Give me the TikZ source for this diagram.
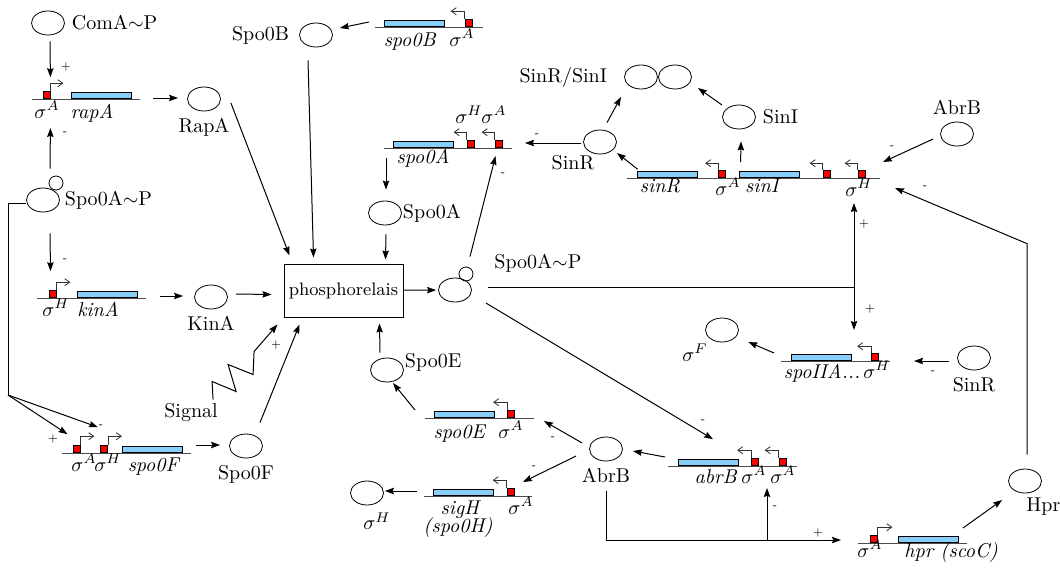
\documentclass[tikz,border=0pt]{standalone}
\usetikzlibrary{shapes.geometric,arrows.meta,positioning}
\definecolor{cdsblue}{RGB}{135,206,250}

\begin{document}
\begin{tikzpicture}[x=0.5pt, y=-0.5pt,
    prot/.style={ellipse, draw, minimum width=16.5pt, minimum height=12pt, inner sep=0pt},
    phos/.style={circle, draw, minimum size=7pt, inner sep=0pt},
    cds/.style={rectangle, draw, fill=cdsblue, minimum width=30pt, minimum height=3pt, inner sep=0pt, anchor=south},
    prom/.style={rectangle, draw, fill=red, minimum size=3.5pt, inner sep=0pt, anchor=south},
    dna/.style={draw=black!70, line width=0.5pt},
    tss/.style={draw=black!80, line width=0.4pt, -{Straight Barb[length=2.5pt,width=3.5pt]}},
    act/.style={line width=0.5pt, -{Stealth[length=4.5pt,width=3.2pt,inset=0.6pt]}},
    link/.style={line width=0.5pt},
    sgn/.style={font=\tiny, inner sep=0pt},
    glab/.style={anchor=base, inner sep=0pt}]

    \useasboundingbox (0,0) rectangle (1060,568);

    % Proteins
    \node[prot, label={right:ComA$\sim$P}] (comap) at (48,23) {};
    \node[prot, label=below:RapA] (rapa) at (204,99) {};
    \node[prot, label={[label distance=-1pt]right:Spo0A$\sim$P}] (spoapl) at (43,200) {};
    \node[phos] (spoapl-p) at (56,183) {};
    \node[prot, label={[label distance=1.5pt]left:Spo0B}] (spob) at (316,35) {};
    \node[prot, label=below:KinA] (kina) at (211,297) {};
    \node[prot, label=below:Spo0F] (spof) at (246,446) {};
    \node[prot, label={[label distance=-3pt]right:Spo0A}] (spoa) at (385,213) {};
    \node[prot] (spoapm) at (455,290) {};
    \node[phos] (spoapm-p) at (466,274) {};
    \node[anchor=base west, inner sep=0pt] (spoapm-t) at (494,268) {Spo0A$\sim$P};
    \node[prot, label={[label distance=-3pt, yshift=4pt]right:Spo0E}] (spoe) at (387,370) {};
    \node[prot, label=below:AbrB] (abrbl) at (606,449) {};
    \node[prot, label={[xshift=5pt]below:$\sigma^H$}] (sigh) at (367,493) {};
    \node[prot] (sinru) at (600,142) {};
    \node[glab] (sinru-t) at (573,169) {SinR};
    \node[prot, label={[label distance=5pt]left:SinR/SinI}] (sinri1) at (641,77) {};
    \node[prot] (sinri2) at (675,77) {};
    \node[prot, label=right:SinI] (sini) at (739,117) {};
    \node[prot, label=above:AbrB] (abrbu) at (957,134) {};
    \node[prot, label={[label distance=-2pt]below left:$\sigma^F$}] (sigf) at (722,330) {};
    \node[prot, label=below:SinR] (sinrl) at (974,358) {};
    \node[prot] (hpr) at (1025,481) {};
    \node[anchor=base west, inner sep=0pt] (hpr-t) at (1026,511) {Hpr};

    \node[draw, line width=0.5pt, minimum width=59.5pt, minimum height=26.5pt, inner xsep=2pt,
        font=\fontsize{9}{11}\selectfont] (relais) at (343.5,290.5) {phosphorelais};
    \node[glab] (signal) at (191,417) {Signal};

    % Genes: rapA
    \draw[dna] (32,99) coordinate (rapA-l) -- (140,99) coordinate (rapA-r);
    \node[prom] (rapA-p) at (46.5,99) {};
    \node[cds] (rapA-g) at (101,99) {};
    \draw[tss] (rapA-p.north east) -- ++(0,-8) -- ++(13,0);
    \node[glab] (rapA-s) at (47,118) {$\sigma^A$};
    \node[glab] (rapA-n) at (92,118) {\textit{rapA}};

    % spo0B
    \draw[dna] (375,27) coordinate (spo0B-l) -- (483,27) coordinate (spo0B-r);
    \node[cds] (spo0B-g) at (414,27) {};
    \node[prom] (spo0B-p) at (468.5,27) {};
    \draw[tss] (spo0B-p.north west) -- ++(0,-8) -- ++(-14,0);
    \node[glab] (spo0B-n) at (410,46) {\textit{spo0B}};
    \node[glab] (spo0B-s) at (462,46) {$\sigma^A$};

    % spo0A
    \draw[dna] (384,148) coordinate (spo0A-l) -- (512,148) coordinate (spo0A-r);
    \node[cds] (spo0A-g) at (423,148) {};
    \foreach \x/\i in {470.5/1, 498.5/2} {
        \node[prom] (spo0A-p\i) at (\x,148) {};
        \draw[tss] (spo0A-p\i.north west) -- ++(0,-8) -- ++(-13,0);
    }
    \node[glab] (spo0A-n) at (423,163) {\textit{spo0A}};
    \node[glab] (spo0A-s1) at (469,123) {$\sigma^H$};
    \node[glab] (spo0A-s2) at (494,123) {$\sigma^A$};

    % kinA
    \draw[dna] (37,298) coordinate (kinA-l) -- (146,298) coordinate (kinA-r);
    \node[prom] (kinA-p) at (52.5,298) {};
    \node[cds] (kinA-g) at (107,298) {};
    \draw[tss] (kinA-p.north east) -- ++(0,-8) -- ++(14,0);
    \node[glab] (kinA-s) at (56,316) {$\sigma^H$};
    \node[glab] (kinA-n) at (98,316) {\textit{kinA}};

    % spo0F
    \draw[dna] (62,453) coordinate (spo0F-l) -- (191,453) coordinate (spo0F-r);
    \foreach \x/\i in {76.5/1, 104/2} {
        \node[prom] (spo0F-p\i) at (\x,453) {};
        \draw[tss] (spo0F-p\i.north east) -- ++(0,-9) -- ++(14,0);
    }
    \node[cds] (spo0F-g) at (152,453) {};
    \node[glab] (spo0F-s1) at (84,471) {$\sigma^A$};
    \node[glab] (spo0F-s2) at (108,471) {$\sigma^H$};
    \node[glab] (spo0F-n) at (154,471) {\textit{spo0F}};

    % spo0E
    \draw[dna] (425,418) coordinate (spo0E-l) -- (534,418) coordinate (spo0E-r);
    \node[cds] (spo0E-g) at (464,418) {};
    \node[prom] (spo0E-p) at (511,418) {};
    \draw[tss] (spo0E-p.north west) -- ++(0,-8) -- ++(-14,0);
    \node[glab] (spo0E-n) at (460,438) {\textit{spo0E}};
    \node[glab] (spo0E-s) at (511,438) {$\sigma^A$};

    % sigH
    \draw[dna] (424,496) coordinate (sigH-l) -- (532,496) coordinate (sigH-r);
    \node[cds] (sigH-g) at (463,496) {};
    \node[prom] (sigH-p) at (510.5,496) {};
    \draw[tss] (sigH-p.north west) -- ++(0,-8) -- ++(-14,0);
    \node[glab] (sigH-n) at (461,514) {\textit{sigH}};
    \node[glab] (sigH-n2) at (458,532) {\textit{(spo0H)}};
    \node[glab] (sigH-s) at (521,514) {$\sigma^A$};

    % abrB
    \draw[dna] (668,466) coordinate (abrB-l) -- (797,466) coordinate (abrB-r);
    \node[cds] (abrB-g) at (708,466) {};
    \foreach \x/\i in {755/1, 782.5/2} {
        \node[prom] (abrB-p\i) at (\x,466) {};
        \draw[tss] (abrB-p\i.north west) -- ++(0,-8) -- ++(-14,0);
    }
    \node[glab] (abrB-n) at (716,483) {\textit{abrB}};
    \node[glab] (abrB-s1) at (754,483) {$\sigma^A$};
    \node[glab] (abrB-s2) at (783,483) {$\sigma^A$};

    % hpr
    \draw[dna] (858,543) coordinate (hpr-l) -- (967,543) coordinate (hpr-r);
    \node[prom] (hpr-p) at (873.5,543) {};
    \node[cds] (hpr-g) at (928,543) {};
    \draw[tss] (hpr-p.north east) -- ++(0,-8) -- ++(15,0);
    \node[glab] (hpr-s) at (870,557) {$\sigma^A$};
    \node[glab] (hpr-n) at (951,557) {\textit{hpr (scoC)}};

    % spoIIA
    \draw[dna] (781,361) coordinate (spoIIA-l) -- (890,361) coordinate (spoIIA-r);
    \node[cds] (spoIIA-g) at (821,361) {};
    \node[prom] (spoIIA-p) at (875,361) {};
    \draw[tss] (spoIIA-p.north west) -- ++(0,-7) -- ++(-14,0);
    \node[glab] (spoIIA-n) at (822,378) {\textit{spoIIA...}};
    \node[glab] (spoIIA-s) at (877,378) {$\sigma^H$};

    % sinR sinI
    \draw[dna] (627,178) coordinate (sinRI-l) -- (880,178) coordinate (sinRI-r);
    \node[cds] (sinRI-g1) at (667,178) {};
    \node[cds] (sinRI-g2) at (769,178) {};
    \foreach \x/\i in {722/1, 826.5/2, 861.5/3} {
        \node[prom] (sinRI-p\i) at (\x,178) {};
        \draw[tss] (sinRI-p\i.north west) -- ++(0,-7) -- ++(-13,0);
    }
    \node[glab] (sinRI-n1) at (660,192) {\textit{sinR}};
    \node[glab] (sinRI-s1) at (728,195) {$\sigma^A$};
    \node[glab] (sinRI-n2) at (763,192) {\textit{sinI}};
    \node[glab] (sinRI-s3) at (859,196) {$\sigma^H$};

    % Regulation
    \draw[act] ([shift={(2,6)}]comap.south) -- ([shift={(0,-14)}]rapA-p.north east);
    \node[sgn] (sg1) at (66,67) {+};
    \draw[act] ([shift={(-6,-7)}]spoapl-p.north) -- ([shift={(0,29)}]rapA-p.south east);
    \node[sgn] (sg2) at (65,133) {-};
    \draw[act] ([shift={(13,-1)}]rapA-r) -- ([shift={(-9,-1)}]rapa.west);
    \draw[act] ([shift={(10,4)}]rapa.east) -- ([shift={(6,-8)}]relais.north west);
    \draw[act] ([shift={(-8,13)}]spob.south) -- ([shift={(30,-6)}]relais.north west);
    \draw[act] ([shift={(-6,-5)}]spo0B-l) -- ([shift={(7,-7)}]spob.east);
    \draw[act] ([shift={(2,10)}]spo0A-l) -- ([shift={(1,-11)}]spoa.north);
    \draw[act] ([shift={(1,9)}]spoa.south) -- ([shift={(102,-4)}]relais.north west);
    \draw[act, shorten >=1pt] (relais) -- (spoapm);
    \draw[act] ([shift={(4,-10)}]spoapm-p.north) -- ([shift={(-3,8)}]spo0A-p2.south);
    \node[sgn] (sg3) at (503,174) {-};
    \draw[act] ([shift={(8,-3)}]kina.east) -- ([shift={(-12,4)}]relais.west);
    \draw[act] ([shift={(14,-2)}]kinA-r) -- ([shift={(-11,-1)}]kina.west);
    \draw[act] ([shift={(7,21)}]spoapl.south) -- ([shift={(-2,-19)}]kinA-p.north);
    \node[sgn] (sg4) at (65,260) {-};

    % Signal
    \draw[act] ([shift={(-5,-3)}]signal.north east) -- ++(-1,-18) -- ++(24,10) -- ++(-8,-27)
        -- ++(25,10) -- ++(1,-23) -- ([shift={(-6,7)}]relais.south west);
    \node[sgn] (sg5) at (276,345) {+};

    \draw[act] ([shift={(14,-11)}]spof.north) -- ([shift={(16,7)}]relais.south west);
    \draw[act] ([shift={(5,-8)}]spo0F-r) -- ([shift={(-9,-1)}]spof.west);
    \coordinate (fork) at (8,395);
    \draw[link] ([shift={(0,3)}]spoapl.west) -| (fork);
    \draw[act] (fork) -- ([shift={(-9,-11)}]spo0F-p1.north);
    \draw[act] (fork) -- ([shift={(-6,-18)}]spo0F-p2.north);
    \node[sgn] (sg6) at (53,439) {+};
    \node[sgn] (sg7) at (101,426) {-};

    \draw[act] ([shift={(-7,-5)}]spoe.north) -- ([shift={(96,6)}]relais.south west);
    \draw[act] ([shift={(-10,-8)}]spo0E-l) -- ([shift={(6,13)}]spoe.center);
    \draw[act] ([shift={(-7,-6)}]abrbl.west) -- ([shift={(10,3)}]spo0E-r);
    \node[sgn] (sg8) at (553,438) {-};
    \draw[act] ([shift={(-13,7)}]abrbl.west) -- ([shift={(-9,-14)}]sigH-r);
    \node[sgn] (sg9) at (534,467) {-};
    \draw[act] ([shift={(-7,-5)}]sigH-l) -- ([shift={(1,-2)}]sigh.east);
    \draw[act] ([shift={(-3,-9)}]abrB-l) -- ([shift={(10,2)}]abrbl.east);
    \draw[act] ([shift={(14,13)}]spoapm.east) -- ([shift={(5,-20)}]abrB-g.north);
    \node[sgn] (sg10) at (703,421) {-};

    % AbrB to hpr and abrB
    \coordinate (hpr-in) at ([shift={(-32.5,-3)}]hpr-p.south);
    \coordinate (abrB-in) at ([shift={(12,22)}]abrB-p1.south);
    \draw[act] ([shift={(0,30)}]abrbl.south) |- (hpr-in);
    \draw[act] (abrB-in |- hpr-in) -- (abrB-in);
    \node[sgn] (sg11) at (818,533) {+};
    \node[sgn] (sg12) at (775,507) {-};
    \draw[act] ([shift={(-4,-15)}]hpr-r) -- ([shift={(-6,19)}]hpr.west);
    \draw[act] ([shift={(2,-14)}]hpr.north) -- ++(0,-211) -- ([shift={(15,10)}]sinRI-r);
    \node[sgn] (sg13) at (925,187) {-};
    \draw[act] ([shift={(-7,5)}]abrbu.west) -- ([shift={(3,-16)}]sinRI-r);
    \node[sgn] (sg14) at (892,147) {-};

    % Spo0A~P to sigma H genes
    \coordinate (junc) at (854,287);
    \coordinate (sinRI-in) at ([shift={(-7.5,25)}]sinRI-p3.south);
    \coordinate (spoIIA-in) at ([shift={(-21,-31)}]spoIIA-p.south);
    \draw[link] ([shift={(16,-3)}]spoapm.east) -- (junc);
    \draw[act] (junc) -- (sinRI-in);
    \draw[act] (junc) -- (spoIIA-in);
    \node[sgn] (sg15) at (864,224) {+};
    \node[sgn] (sg16) at (870,309) {+};
    \draw[act] ([shift={(-8,3)}]sinrl.west) -- ([shift={(24,0)}]spoIIA-r);
    \node[sgn] (sg17) at (933,372) {-};
    \draw[act] ([shift={(-7,-8)}]spoIIA-l) -- ([shift={(9.5,12)}]sigf.east);

    % SinR, SinI
    \draw[act] ([shift={(-2,1)}]sinru.west) -- ([shift={(13,-5)}]spo0A-r);
    \node[sgn] (sg18) at (537,135) {-};
    \draw[act] ([shift={(1,-2)}]sinRI-g1.north west) -- ([shift={(17,11)}]sinru.center);
    \draw[act] ([shift={(7,-7)}]sinru.north) -- ([shift={(-20,20)}]sinri1.center);
    \draw[act] ([shift={(-17,-12)}]sini.center) -- ([shift={(23,11)}]sinri2.center);
    \draw[act] ([shift={(2,-9)}]sinRI-g2.north west) -- ([shift={(2,12)}]sini.south);
\end{tikzpicture}
\end{document}
